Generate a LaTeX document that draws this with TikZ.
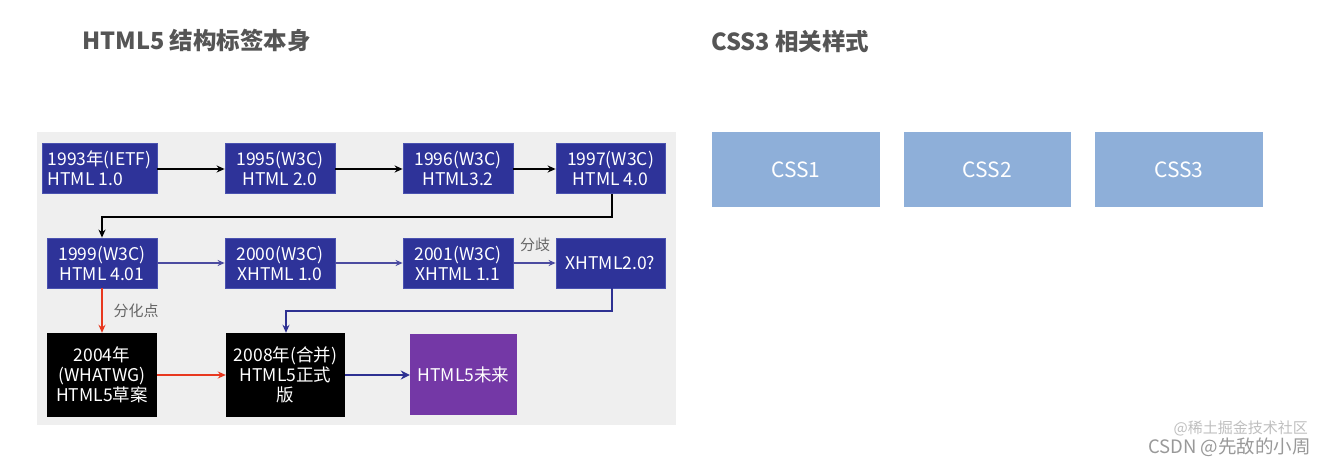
\documentclass[tikz,border=0pt]{standalone}
\usepackage{fontspec}
\setmainfont{Noto Sans CJK SC}
\usetikzlibrary{arrows.meta}
\definecolor{panel}{HTML}{EFEFEF}
\definecolor{bluebox}{HTML}{2E3399}
\definecolor{blueedge}{HTML}{4A52B0}
\definecolor{purplebox}{HTML}{7438A6}
\definecolor{cssbox}{HTML}{8EAFD9}
\definecolor{redline}{HTML}{E8381F}
\definecolor{violetline}{HTML}{4B4BA0}
\definecolor{darkline}{HTML}{2E3192}
\definecolor{titlegray}{HTML}{555555}
\definecolor{labelgray}{HTML}{666666}
\tikzset{
  box/.style={draw=blueedge, line width=0.8pt, fill=bluebox, text=white, inner sep=0pt,
    font=\fontsize{17.5}{20}\selectfont, align=center},
  blackbox/.style={draw=none, fill=black, text=white, inner sep=0pt,
    font=\fontsize{17.5}{20}\selectfont, align=center},
  purplebx/.style={draw=none, fill=purplebox, text=white, inner sep=0pt,
    font=\fontsize{17.5}{20}\selectfont, align=center},
  cssbx/.style={draw=none, fill=cssbox, text=white, inner sep=0pt,
    font=\fontsize{21}{24}\selectfont},
  blackarrow/.style={draw=black, line width=1.6pt, -{Stealth[length=8pt,width=7pt]}},
  violetarrow/.style={draw=violetline, line width=1.2pt, -{Stealth[length=7pt,width=6pt]}},
  redarrow/.style={draw=redline, line width=1.4pt, -{Stealth[length=8pt,width=7pt]}},
  darkarrow/.style={draw=darkline, line width=2pt, -{Stealth[length=9pt,width=9pt]}},
  titletext/.style={text=titlegray, font=\bfseries\fontsize{23.5}{26}\selectfont, anchor=west, inner sep=0pt},
  lbl/.style={text=labelgray, font=\fontsize{15}{16}\selectfont, inner sep=0pt}
}
\begin{document}
\begin{tikzpicture}[x=1pt,y=-1pt]
\useasboundingbox (0,0) rectangle (1323,465);
\fill[white] (0,0) rectangle (1323,465);
% panel
\fill[panel] (37,132) rectangle (676,425);
% titles
\node[titletext] (t1) at (82,41) {HTML5 结构标签本身};
\node[titletext] (t2) at (711,42) {CSS3 相关样式};
% row 1
\node[box, minimum width=115pt, minimum height=50pt, align=left] (b1) at (99.5,168.5) {1993年(IETF)\\HTML 1.0};
\node[box, minimum width=110pt, minimum height=50pt] (b2) at (280,168.5) {1995(W3C)\\HTML 2.0};
\node[box, minimum width=110pt, minimum height=50pt] (b3) at (458,168.5) {1996(W3C)\\HTML3.2};
\node[box, minimum width=109pt, minimum height=50pt] (b4) at (610.5,168.5) {1997(W3C)\\HTML 4.0};
% row 2
\node[box, minimum width=110pt, minimum height=50pt] (b5) at (102,263) {1999(W3C)\\HTML 4.01};
\node[box, minimum width=110pt, minimum height=50pt] (b6) at (280,263) {2000(W3C)\\XHTML 1.0};
\node[box, minimum width=110pt, minimum height=50pt] (b7) at (458,263) {2001(W3C)\\XHTML 1.1};
\node[box, minimum width=109pt, minimum height=50pt] (b8) at (610.5,263) {XHTML2.0?};
% row 3
\node[blackbox, minimum width=110pt, minimum height=84pt] (b9) at (102,375) {2004年\\(WHATWG)\\HTML5草案};
\node[blackbox, minimum width=119pt, minimum height=84pt] (b10) at (285.5,375) {2008年(合并)\\HTML5正式\\版};
\node[purplebx, minimum width=107pt, minimum height=81pt] (b11) at (463.5,374.5) {HTML5未来};
% connectors row 1
\draw[blackarrow] (b1.east |- 0,169) -- (b2.west |- 0,169);
\draw[blackarrow] (b2.east |- 0,169) -- (b3.west |- 0,169);
\draw[blackarrow] (b3.east |- 0,169) -- (b4.west |- 0,169);
\coordinate (c1) at (612,217);
\coordinate (c2) at (102,217);
\draw[blackarrow] (b4.south -| c1) -- (c1) -- (c2) -- (b5.north -| c2);
% row 2
\draw[violetarrow] (b5.east |- 0,263) -- (b6.west |- 0,263);
\draw[violetarrow] (b6.east |- 0,263) -- (b7.west |- 0,263);
\draw[violetarrow] (b7.east |- 0,263) -- (b8.west |- 0,263);
\node[lbl] (l1) at (535,245) {分歧};
% XHTML2.0 to 2008
\coordinate (c3) at (612,311);
\coordinate (c4) at (286,311);
\draw[draw=darkline, line width=1.4pt, -{Stealth[length=8pt,width=7pt]}] (b8.south -| c3) -- (c3) -- (c4) -- (b10.north -| c4);
% red
\draw[redarrow] (b5.south) -- (b9.north);
\node[lbl] (l2) at (136,311) {分化点};
\draw[redarrow] (b9.east |- 0,375) -- (b10.west |- 0,375);
\draw[darkarrow] (b10.east |- 0,375) -- (b11.west |- 0,375);
% CSS boxes
\node[cssbx, minimum width=168pt, minimum height=75pt] (css1) at (796,169.5) {CSS1};
\node[cssbx, minimum width=167pt, minimum height=75pt] (css2) at (987.5,169.5) {CSS2};
\node[cssbx, minimum width=168pt, minimum height=75pt] (css3) at (1179,169.5) {CSS3};
% watermark
\node[text=black!25, font=\fontsize{15}{18}\selectfont, anchor=east, inner sep=0pt] (w2) at (1308,428) {@稀土掘金技术社区};
\node[text=black!40, font=\fontsize{18.5}{20}\selectfont, anchor=east, inner sep=0pt] (w1) at (1311,447) {CSDN @先敌的小周};
\end{tikzpicture}
\end{document}
